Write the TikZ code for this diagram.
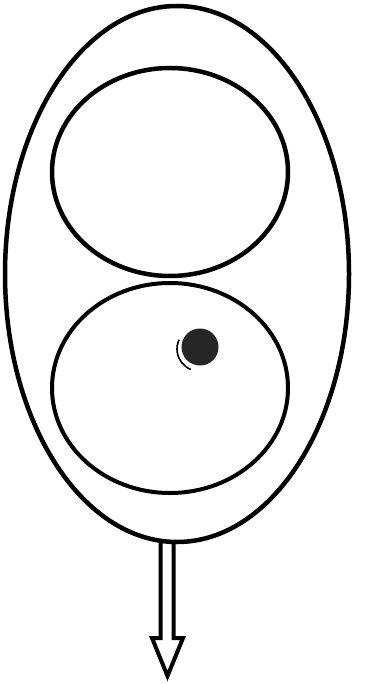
\documentclass[tikz,border=0pt]{standalone}
\usetikzlibrary{shapes.geometric,calc}
\begin{document}
\begin{tikzpicture}[x=1pt,y=-1pt,
  wall/.style={ellipse,draw,line width=4.5pt,inner sep=0pt},
  arrowline/.style={draw,line width=4pt,line join=miter},
]
\useasboundingbox[fill=white] (0,0) rectangle (368,684);
\node[wall,minimum width=344pt,minimum height=536pt] (cell) at (177,274) {};
\node[wall,minimum width=236pt,minimum height=208pt] (upper) at (170,172) {};
\node[wall,line width=4pt,minimum width=236pt,minimum height=210pt] (lower) at (170,388) {};
\node[circle,fill=black!85,inner sep=0pt,minimum size=37pt] (dot) at (200,347) {};
\draw[line width=1.6pt] ($(dot.center)+(-1,2)+(112:22)$) arc[start angle=112,end angle=205,radius=22];
\coordinate (base) at (167,543);
\coordinate (tip) at (167.5,676);
\draw[arrowline] ($(base)+(-6.5,0)$) -- ($(base)+(-6.5,95)$) -- ($(base)+(-15,95)$) -- (tip)
  -- ($(base)+(16,95)$) -- ($(base)+(6.5,95)$) -- ($(base)+(6.5,0)$);
\end{tikzpicture}
\end{document}
